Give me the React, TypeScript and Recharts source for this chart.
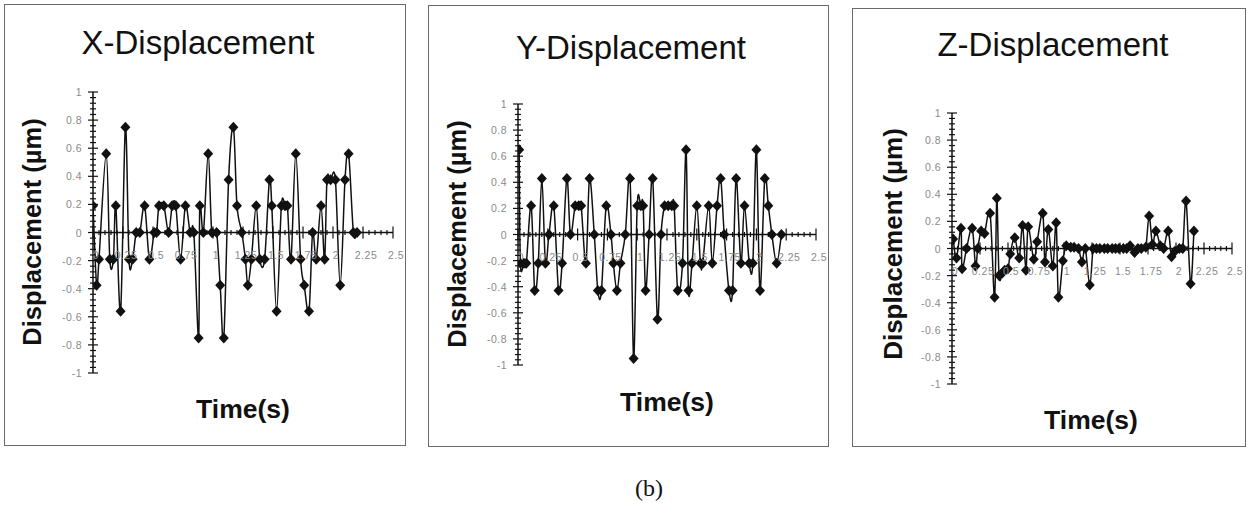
import React from "react";
import { LineChart, Line, XAxis, YAxis, ReferenceLine } from "recharts";

// tick marks and labels
const xMajorTicks = [0, 0.25, 0.5, 0.75, 1, 1.25, 1.5, 1.75, 2, 2.25, 2.5];
const xTickLabels = ["0", "0.25", "0.5", "0.75", "1", "1.25", "1.5", "1.75", "2", "2.25", "2.5"];
const yMajorTicks = [-1, -0.8, -0.6, -0.4, -0.2, 0, 0.2, 0.4, 0.6, 0.8, 1];
const yTickLabels = ["-1", "-0.8", "-0.6", "-0.4", "-0.2", "0", "0.2", "0.4", "0.6", "0.8", "1"];

// X-Displacement
const xTime = [
  0.0, 0.03, 0.05, 0.11, 0.14, 0.17, 0.19, 0.23, 0.27, 0.3, 0.33, 0.36, 0.39, 0.43, 0.47, 0.51, 0.53,
  0.55, 0.59, 0.63, 0.66, 0.69, 0.73, 0.77, 0.81, 0.84, 0.88, 0.89, 0.92, 0.96, 0.99, 1.03, 1.06, 1.09,
  1.13, 1.17, 1.2, 1.24, 1.27, 1.29, 1.32, 1.36, 1.39, 1.43, 1.47, 1.49, 1.53, 1.57, 1.6, 1.62, 1.65,
  1.69, 1.73, 1.76, 1.8, 1.83, 1.86, 1.9, 1.93, 1.95, 1.98, 2.02, 2.06, 2.1, 2.13, 2.17, 2.2,
];
const xDisp = [
  0.19, -0.375, -0.19, 0.56, -0.19, -0.19, 0.19, -0.56, 0.75, -0.19, -0.19, 0, 0, 0.19, -0.19, 0, 0,
  0.19, 0.19, 0, 0.19, 0.19, -0.19, 0.19, 0, 0, -0.75, 0.19, 0, 0.56, 0, 0, -0.375, -0.75,
  0.375, 0.75, 0.19, 0, -0.19, -0.375, -0.19, 0.19, -0.19, -0.19, 0.375, 0.19, -0.56, 0.19, 0.19, 0.19, -0.19,
  0.56, -0.19, -0.375, -0.56, 0, -0.19, 0.19, -0.19, 0.375, 0.375, 0.375, -0.375, 0.375, 0.56, 0, 0,
];

// Y-Displacement
const yTime = [
  0.01, 0.02, 0.05, 0.07, 0.11, 0.14, 0.17, 0.2, 0.23, 0.26,
  0.3, 0.34, 0.37, 0.41, 0.44, 0.48, 0.51, 0.53, 0.57, 0.6,
  0.64, 0.67, 0.7, 0.74, 0.78, 0.8, 0.83, 0.86, 0.9, 0.94,
  0.97, 1.0, 1.03, 1.05, 1.07, 1.1, 1.13, 1.17, 1.2, 1.23,
  1.26, 1.29, 1.31, 1.34, 1.38, 1.41, 1.43, 1.46, 1.5, 1.53,
  1.55, 1.6, 1.63, 1.67, 1.7, 1.73, 1.77, 1.8, 1.83, 1.87,
  1.9, 1.94, 1.97, 2.0, 2.03, 2.07, 2.1, 2.13, 2.17, 2.21,
];
const yDisp = [
  0.65, -0.22, -0.22, -0.22, 0.22, -0.43, -0.22, 0.43, -0.22, 0,
  0.22, -0.43, -0.22, 0.43, 0, 0.22, 0.22, 0.22, -0.22, 0.43,
  0, -0.43, -0.43, 0.22, 0, -0.22, -0.43, -0.22, 0, 0.43,
  -0.95, 0.22, 0.22, 0.22, -0.43, 0, 0.43, -0.65, 0, 0.22,
  0.22, 0.22, 0.22, -0.43, -0.22, 0.65, -0.43, -0.22, 0.22, -0.22,
  -0.22, 0.22, -0.22, 0.22, 0.43, 0, -0.43, -0.43, 0.43, -0.22,
  0.22, -0.22, -0.22, 0.65, -0.43, 0.43, 0.22, 0, -0.22, 0,
];

// Z-Displacement
const zTime = [
  0.01, 0.04, 0.08, 0.09, 0.13, 0.18, 0.21, 0.23, 0.26, 0.29, 0.34, 0.38, 0.4, 0.42, 0.45, 0.47,
  0.5, 0.52, 0.56, 0.6, 0.63, 0.66, 0.68, 0.73, 0.76, 0.81, 0.83, 0.86, 0.9, 0.93, 0.95, 0.99,
  1.02, 1.06, 1.09, 1.13, 1.16, 1.19, 1.23, 1.26, 1.29, 1.32, 1.36, 1.39, 1.43, 1.46, 1.49, 1.53,
  1.56, 1.59, 1.63, 1.66, 1.69, 1.73, 1.76, 1.79, 1.82, 1.86, 1.89, 1.93, 1.96, 1.99, 2.03, 2.06,
  2.09, 2.13, 2.16, 2.19,
];
const zDisp = [
  0.07, -0.07, 0.15, -0.15, 0, 0.15, -0.13, 0, 0.13, 0.11, 0.26, -0.36, 0.37, -0.2, -0.18, -0.16,
  -0.15, -0.04, 0.08, -0.07, 0.17, -0.16, 0.16, -0.08, 0.05, 0.26, -0.1, 0.14, -0.13, 0.19, -0.36, -0.09,
  0.02, 0.01, 0.01, 0, -0.1, 0, -0.27, 0, 0, 0, 0, 0, 0, 0, 0, 0,
  0, 0.02, -0.03, 0, 0, 0.01, 0.24, 0.03, 0.13, 0.02, 0, 0.13, -0.06, -0.02, 0, 0,
  0.35, -0.26, 0.13,
];

const zip = (t: number[], v: number[]) => t.map((tt, i) => ({ t: tt, v: v[i] }));

function withMinor(major: number[], parts: number) {
  const out: number[] = [];
  for (let i = 0; i < major.length - 1; i++) {
    const step = (major[i + 1] - major[i]) / parts;
    for (let k = 0; k < parts; k++) out.push(+(major[i] + k * step).toFixed(4));
  }
  out.push(major[major.length - 1]);
  return out;
}
const xAllTicks = withMinor(xMajorTicks, 5);
const yAllTicks = withMinor(yMajorTicks, 5);

const labelFor = (v: number, major: number[], labels: string[]) => {
  const i = major.findIndex((m) => Math.abs(m - v) < 1e-6);
  return i >= 0 ? labels[i] : null;
};

// smoothed line like the spreadsheet one (catmull-rom through the points)
function excelSmooth(context: any) {
  let pts: number[][] = [];
  return {
    areaStart() {},
    areaEnd() {},
    lineStart() {
      pts = [];
    },
    point(x: number, y: number) {
      pts.push([+x, +y]);
    },
    lineEnd() {
      const n = pts.length;
      if (!n) return;
      context.moveTo(pts[0][0], pts[0][1]);
      for (let i = 0; i < n - 1; i++) {
        const p0 = pts[Math.max(i - 1, 0)];
        const p1 = pts[i];
        const p2 = pts[i + 1];
        const p3 = pts[Math.min(i + 2, n - 1)];
        context.bezierCurveTo(
          p1[0] + (p2[0] - p0[0]) / 6,
          p1[1] + (p2[1] - p0[1]) / 6,
          p2[0] - (p3[0] - p1[0]) / 6,
          p2[1] - (p3[1] - p1[1]) / 6,
          p2[0],
          p2[1],
        );
      }
    },
  };
}

const tickFont = "'Liberation Sans', Arial, sans-serif";

const renderDiamond = (p: any) => {
  const { cx, cy, index } = p;
  if (cx == null || cy == null) return <g key={index} />;
  return (
    <polygon
      key={index}
      points={`${cx},${cy - 5.5} ${cx + 5},${cy} ${cx},${cy + 5.5} ${cx - 5},${cy}`}
      fill="#111"
    />
  );
};

const makeXTick = (plotH: number) => (props: any) => {
  const { x, y, payload } = props;
  const y0 = y - plotH / 2;
  const label = labelFor(payload.value, xMajorTicks, xTickLabels);
  const h = label ? 6 : 2.5;
  return (
    <g>
      <line x1={x} x2={x} y1={y0 - h} y2={y0 + h} stroke="#111" strokeWidth={1.2} />
      {label && (
        <text
          x={x + 3}
          y={y0 + 22}
          textAnchor="middle"
          dominantBaseline="central"
          fontSize={10.5}
          letterSpacing={0.5}
          fontFamily={tickFont}
          fill="#8a8a8a"
        >
          {label}
        </text>
      )}
    </g>
  );
};

const YTick = (props: any) => {
  const { x, y, payload } = props;
  const label = labelFor(payload.value, yMajorTicks, yTickLabels);
  const h = label ? 5 : 3;
  return (
    <g>
      <line x1={x - h} x2={x + h} y1={y} y2={y} stroke="#111" strokeWidth={1.2} />
      {label && (
        <text
          x={x - 11}
          y={y}
          textAnchor="end"
          dominantBaseline="central"
          fontSize={10.5}
          letterSpacing={0.5}
          fontFamily={tickFont}
          fill="#8a8a8a"
        >
          {label}
        </text>
      )}
    </g>
  );
};

type Panel = {
  title: string;
  data: { t: number; v: number }[];
  box: { x: number; y: number; w: number; h: number };
  plot: { l: number; t: number; r: number; b: number };
  titleAt: [number, number];
  yLabelAt: [number, number];
  xLabelAt: [number, number];
  yLabelSize: number;
};

const panels: Panel[] = [
  {
    title: "X-Displacement",
    data: zip(xTime, xDisp),
    box: { x: 4, y: 4, w: 402, h: 442 },
    plot: { l: 93, t: 92, r: 393, b: 373 },
    titleAt: [198, 41.5],
    yLabelAt: [33, 232],
    xLabelAt: [243, 409],
    yLabelSize: 25.5,
  },
  {
    title: "Y-Displacement",
    data: zip(yTime, yDisp),
    box: { x: 428, y: 5, w: 401, h: 442 },
    plot: { l: 518, t: 104, r: 816, b: 365 },
    titleAt: [631, 46.5],
    yLabelAt: [458, 234],
    xLabelAt: [667, 402],
    yLabelSize: 25.5,
  },
  {
    title: "Z-Displacement",
    data: zip(zTime, zDisp),
    box: { x: 852, y: 8, w: 394, h: 439 },
    plot: { l: 952, t: 113, r: 1232, b: 384 },
    titleAt: [1053, 44],
    yLabelAt: [893, 244],
    xLabelAt: [1091, 420],
    yLabelSize: 26,
  },
];

const sans = "'Liberation Sans', Arial, Helvetica, sans-serif";

function centered(x: number, y: number, extra?: string): React.CSSProperties {
  return {
    position: "absolute",
    left: x,
    top: y,
    transform: `translate(-50%, -50%)${extra ? " " + extra : ""}`,
    whiteSpace: "nowrap",
    lineHeight: 1,
  };
}

function DisplacementPanel({ p }: { p: Panel }) {
  const { box, plot } = p;
  const plotH = plot.b - plot.t;
  const marginTop = plot.t - box.y;
  const marginRight = box.x + box.w - plot.r;
  const marginBottom = box.y + box.h - plot.b - 1;
  const yAxisW = plot.l - box.x;
  return (
    <>
      <div
        style={{
          position: "absolute",
          left: box.x,
          top: box.y,
          width: box.w,
          height: box.h,
          boxSizing: "border-box",
          border: "1.5px solid #6a6a6a",
        }}
      />
      <div style={{ position: "absolute", left: box.x, top: box.y }}>
        <LineChart
          width={box.w}
          height={box.h}
          data={p.data}
          margin={{ top: marginTop, right: marginRight, bottom: marginBottom, left: 0 }}
        >
          <XAxis
            dataKey="t"
            type="number"
            domain={[0, 2.5]}
            ticks={xAllTicks}
            interval={0}
            height={1}
            axisLine={false}
            tickLine={false}
            tickSize={0}
            tickMargin={0}
            tick={makeXTick(plotH)}
            allowDataOverflow
          />
          <YAxis
            type="number"
            domain={[-1, 1]}
            ticks={yAllTicks}
            interval={0}
            width={yAxisW}
            axisLine={{ stroke: "#111", strokeWidth: 1.5 }}
            tickLine={false}
            tickSize={0}
            tickMargin={0}
            tick={YTick}
            allowDataOverflow
          />
          <ReferenceLine y={0} stroke="#111" strokeWidth={1.5} />
          <Line
            dataKey="v"
            type={excelSmooth as any}
            stroke="#111"
            strokeWidth={1.5}
            dot={renderDiamond}
            activeDot={false}
            isAnimationActive={false}
          />
        </LineChart>
      </div>
      <div style={{ ...centered(p.titleAt[0], p.titleAt[1]), fontFamily: sans, fontSize: 33, color: "#111" }}>
        {p.title}
      </div>
      <div
        style={{
          ...centered(p.yLabelAt[0], p.yLabelAt[1], "rotate(-90deg)"),
          fontFamily: sans,
          fontSize: p.yLabelSize,
          fontWeight: 700,
          color: "#111",
        }}
      >
        Displacement (µm)
      </div>
      <div
        style={{
          ...centered(p.xLabelAt[0], p.xLabelAt[1]),
          fontFamily: sans,
          fontSize: 26.5,
          fontWeight: 700,
          color: "#111",
        }}
      >
        Time(s)
      </div>
    </>
  );
}

export default function App() {
  return (
    <div
      style={{
        position: "absolute",
        left: 0,
        top: 0,
        width: 1248,
        height: 506,
        background: "#fff",
        overflow: "hidden",
      }}
    >
      {panels.map((p) => (
        <DisplacementPanel key={p.title} p={p} />
      ))}
      <div
        style={{
          ...centered(649, 488),
          fontFamily: "'Liberation Serif', 'Times New Roman', serif",
          fontSize: 24,
          color: "#111",
        }}
      >
        (b)
      </div>
    </div>
  );
}
